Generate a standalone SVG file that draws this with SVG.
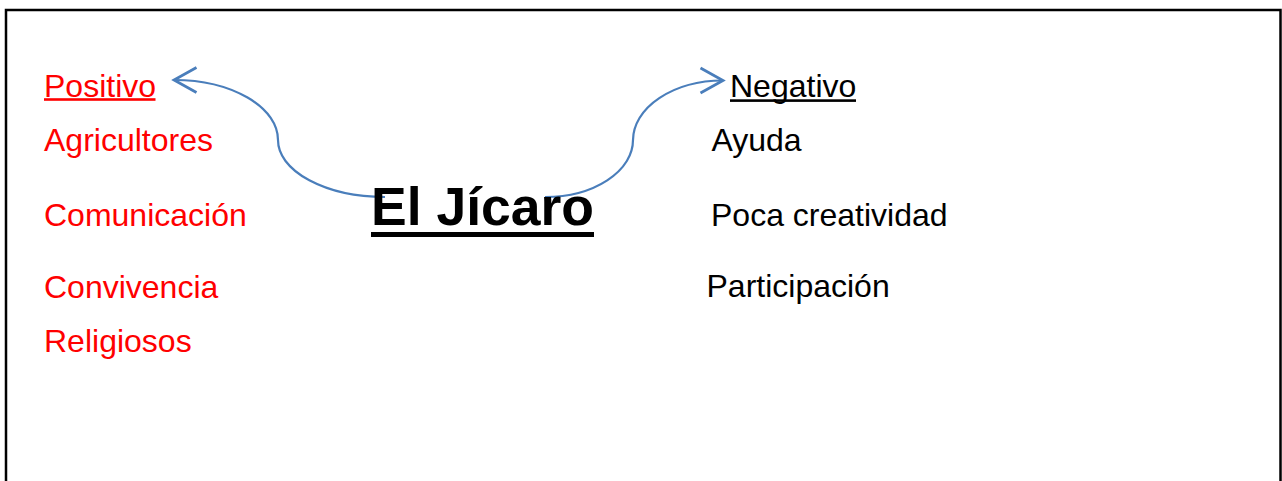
<svg xmlns="http://www.w3.org/2000/svg" width="1282" height="481" viewBox="0 0 1282 481">
  <style>
    .t { font-family: "Liberation Sans", Arial, sans-serif; font-size: 32px; }
    .red { fill: #FF0000; }
    .blk { fill: #000000; }
    .title { font-family: "Liberation Sans", Arial, sans-serif; font-size: 53.5px; font-weight: bold; fill: #000000; }
    .conn { fill: none; stroke: #4A7EBB; stroke-width: 2.2; }
  </style>
  <defs>
    <marker id="arrow" markerUnits="userSpaceOnUse" orient="auto" markerWidth="30" markerHeight="30" refX="0" refY="0" viewBox="-20 -12 24 24" overflow="visible">
      <path d="M-18,-10 L0,0 L-18,10" fill="none" stroke="#4A7EBB" stroke-width="2.2"/>
    </marker>
  </defs>
  <rect x="0" y="0" width="1282" height="481" fill="#FFFFFF"/>
  <rect x="6" y="10" width="1274.5" height="500" fill="none" stroke="#000000" stroke-width="2.5"/>

  <g id="connectors">
    <path class="conn" d="M385,197 A107,57 0 0 1 278,140 A104,60 0 0 0 174,80" marker-end="url(#arrow)"/>
    <path class="conn" d="M545,197 A88,57 0 0 0 633,140 A90,60 0 0 1 723,80.5" marker-end="url(#arrow)"/>
  </g>

  <g id="center">
    <text class="title" x="371" y="225">El Jícaro</text>
    <rect x="371" y="232" width="223" height="5" fill="#000000"/>
  </g>

  <g id="positivo">
    <text class="t red" x="44" y="97">Positivo</text>
    <rect x="44" y="98.2" width="111.5" height="2.6" fill="#FF0000"/>
  </g>
  <g id="agricultores"><text class="t red" x="44" y="151">Agricultores</text></g>
  <g id="comunicacion"><text class="t red" x="44" y="226">Comunicación</text></g>
  <g id="convivencia"><text class="t red" x="44" y="297.5">Convivencia</text></g>
  <g id="religiosos"><text class="t red" x="44" y="351.5">Religiosos</text></g>

  <g id="negativo">
    <text class="t blk" x="730" y="96.5">Negativo</text>
    <rect x="730" y="99.3" width="126" height="2.6" fill="#000000"/>
  </g>
  <g id="ayuda"><text class="t blk" x="711.5" y="151">Ayuda</text></g>
  <g id="poca"><text class="t blk" x="711" y="226">Poca creatividad</text></g>
  <g id="participacion"><text class="t blk" x="706.5" y="297">Participación</text></g>
</svg>
